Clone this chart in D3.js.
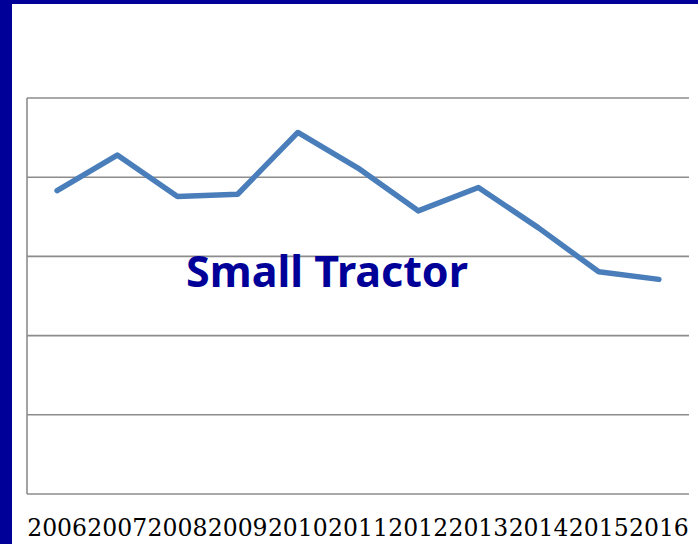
<!DOCTYPE html>
<html>
<head>
<meta charset="utf-8">
<script src="https://cdn.jsdelivr.net/npm/d3@7"></script>
<style>
  body { margin: 0; background: #fff; }
</style>
</head>
<body>
<svg width="698" height="544"></svg>
<script>
var years = ["2006", "2007", "2008", "2009", "2010", "2011", "2012", "2013", "2014", "2015", "2016"],
    values = [76.6, 85.6, 75.1, 75.7, 91.3, 82.3, 71.5, 77.4, 67.2, 56.1, 54.2],
    gridTicks = [0, 20, 40, 60, 80, 100];

var svg = d3.select("svg"),
    width = +svg.attr("width"),
    height = +svg.attr("height");

var margin = {top: 98, right: 9, bottom: 50, left: 27};

// frame: dark blue strips on the left and top
svg.append("rect").attr("x", 0).attr("y", 0).attr("width", 12).attr("height", height).attr("fill", "#000099");
svg.append("rect").attr("x", 0).attr("y", 0).attr("width", width).attr("height", 4).attr("fill", "#000099");

var x = d3.scaleBand()
    .domain(years)
    .range([margin.left, width - margin.right]);

var y = d3.scaleLinear()
    .domain([0, 100])
    .range([height - margin.bottom, margin.top]);

var g = svg.append("g");

// horizontal gridlines
g.selectAll(".grid")
    .data(gridTicks)
    .enter().append("line")
    .attr("class", "grid")
    .attr("x1", margin.left)
    .attr("x2", width - margin.right)
    .attr("y1", function(d) { return y(d); })
    .attr("y2", function(d) { return y(d); })
    .attr("stroke", "#8c8c8c")
    .attr("stroke-width", 1.6);

// left axis line
g.append("line")
    .attr("x1", margin.left).attr("x2", margin.left)
    .attr("y1", y(100)).attr("y2", y(0))
    .attr("stroke", "#8c8c8c")
    .attr("stroke-width", 1.6);

// x axis labels
var xAxis = d3.axisBottom(x).tickSize(0).tickPadding(0);
var ax = svg.append("g")
    .attr("transform", "translate(0," + (y(0) + 25) + ")")
    .call(xAxis);
ax.select(".domain").remove();
ax.selectAll("text")
    .attr("dy", "0.71em")
    .attr("fill", "#000")
    .style("font-family", "'DejaVu Serif', serif")
    .style("font-size", "23.5px");

// title in the middle of the plot
svg.append("text")
    .attr("x", 327)
    .attr("y", 287)
    .attr("text-anchor", "middle")
    .attr("fill", "#000099")
    .style("font-family", "'Noto Sans', sans-serif")
    .style("font-weight", "bold")
    .style("font-size", "43px")
    .text("Small Tractor");

var line = d3.line()
    .x(function(d, i) { return x(years[i]) + x.bandwidth() / 2; })
    .y(function(d) { return y(d); });

svg.append("path")
    .datum(values)
    .attr("d", line)
    .attr("fill", "none")
    .attr("stroke", "#4a7ebb")
    .attr("stroke-width", 5.5)
    .attr("stroke-linejoin", "round")
    .attr("stroke-linecap", "round");
</script>
</body>
</html>
